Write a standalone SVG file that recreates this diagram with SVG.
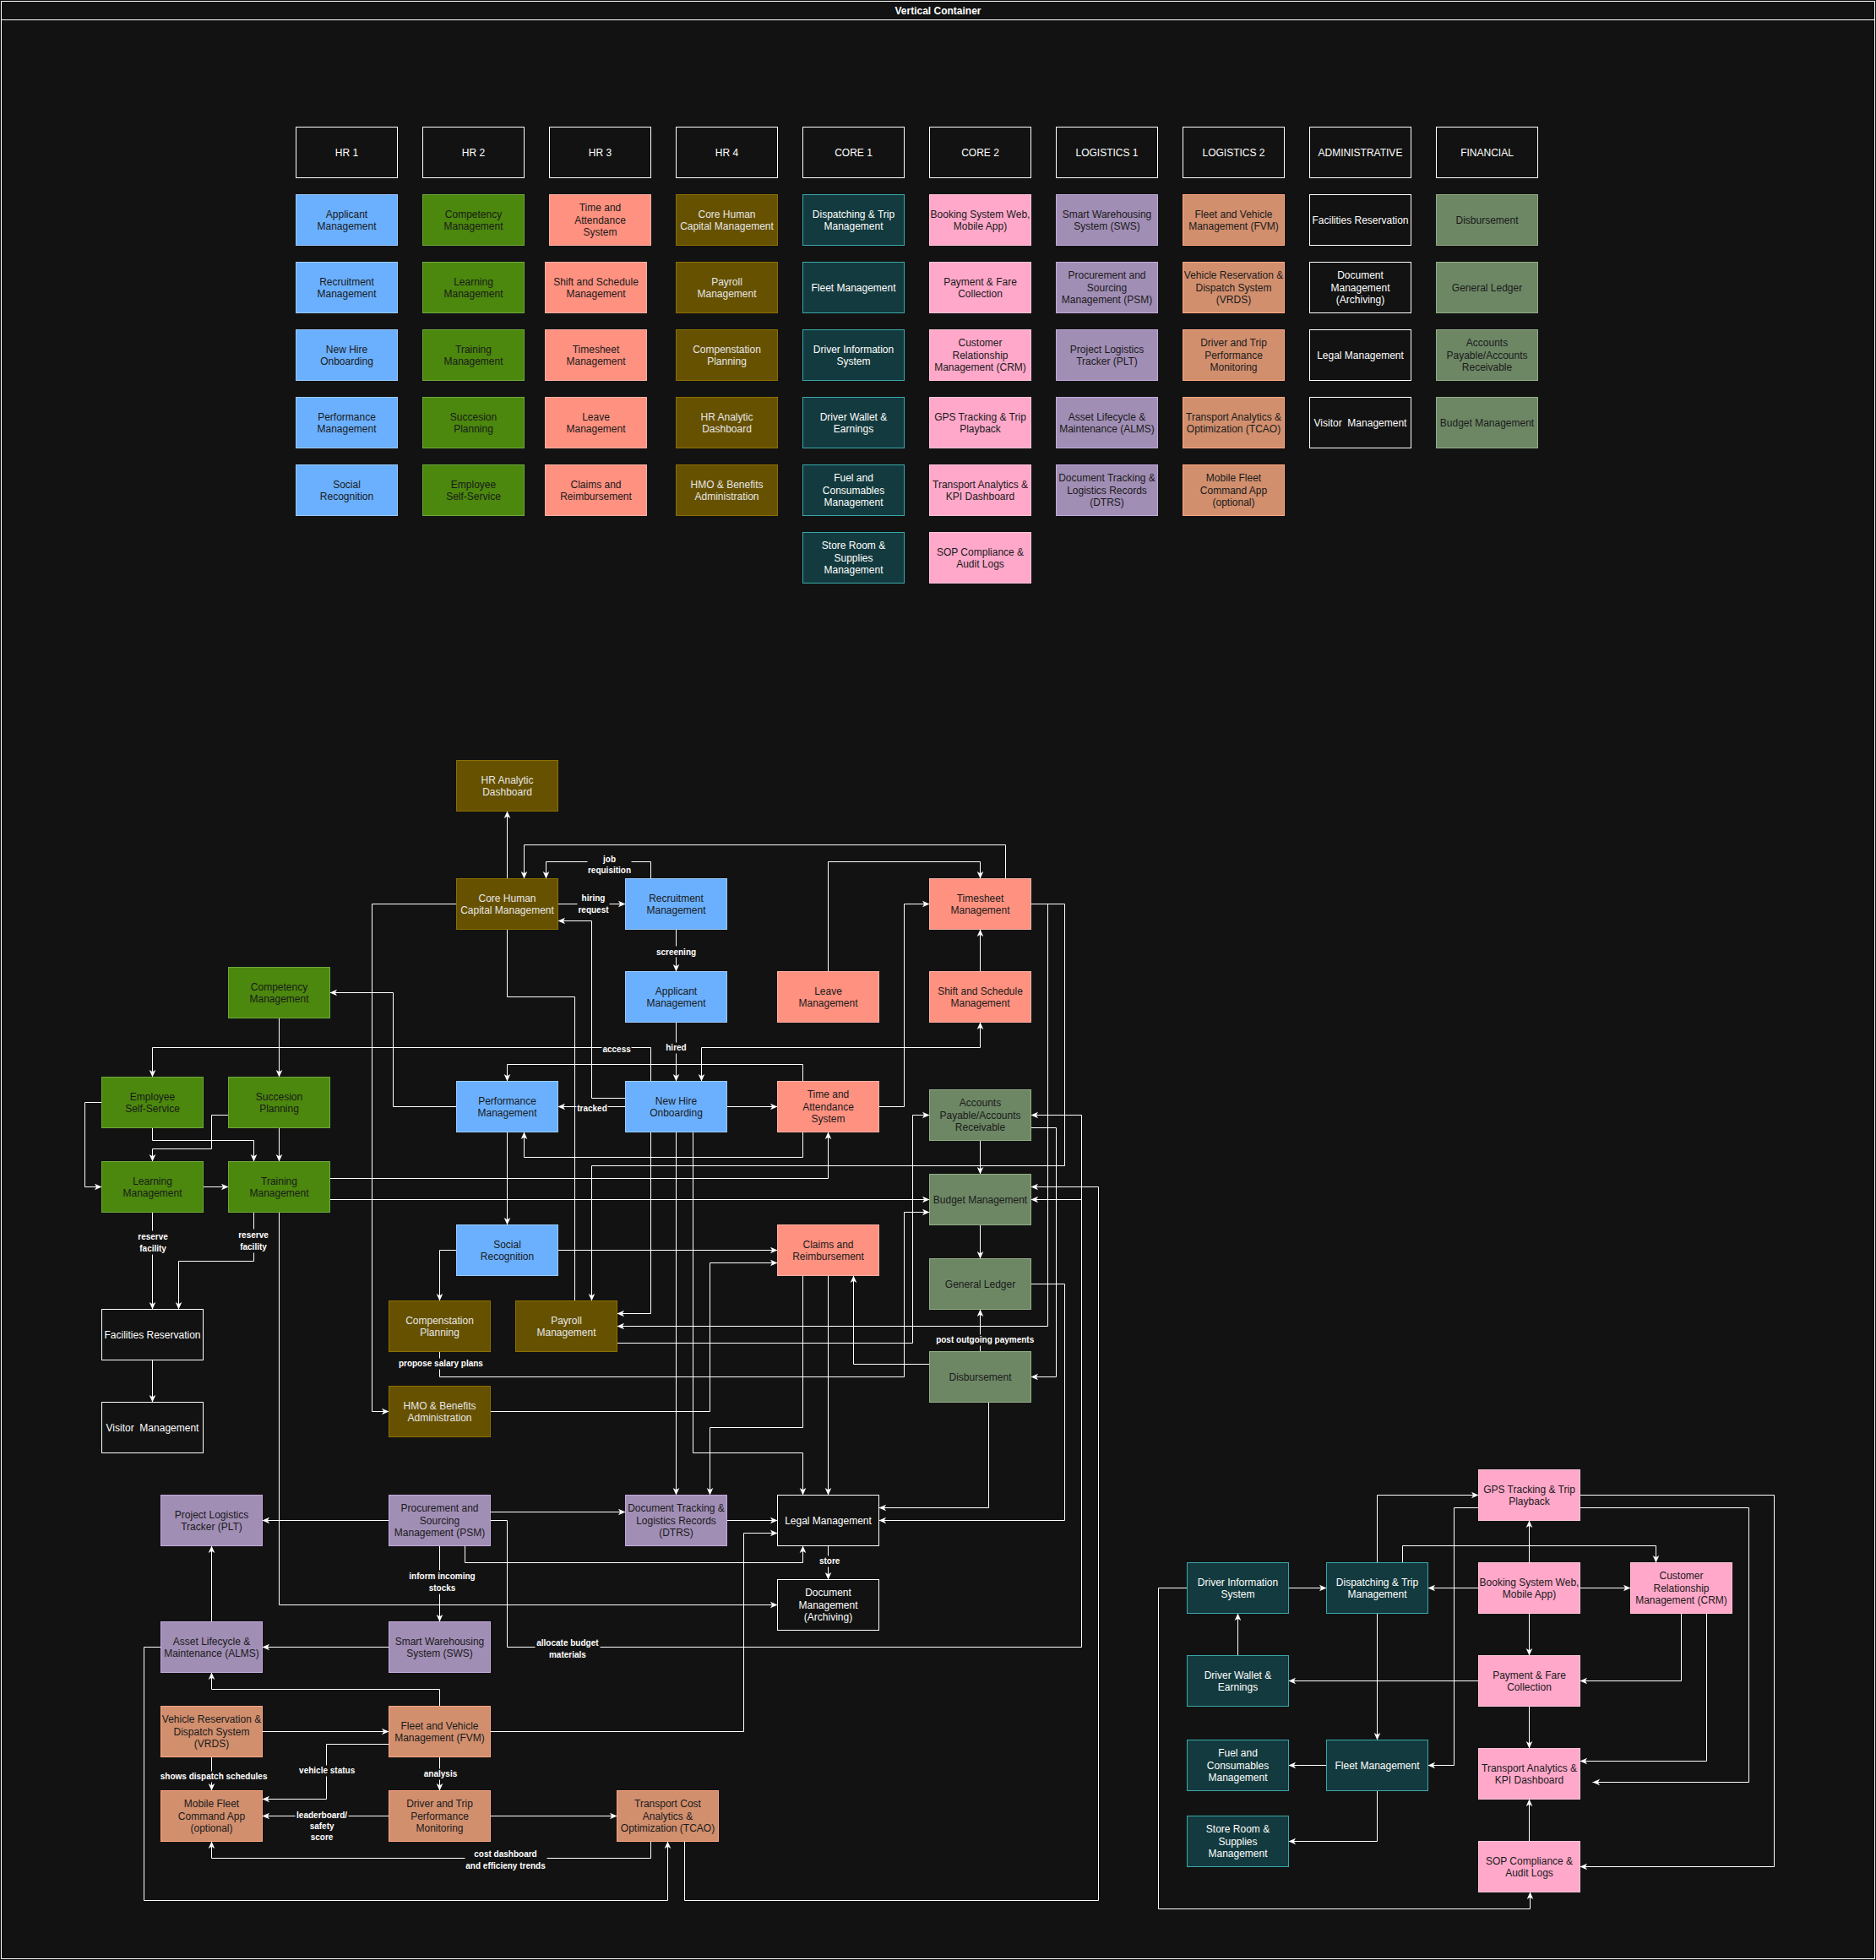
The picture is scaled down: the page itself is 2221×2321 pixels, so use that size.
<svg xmlns="http://www.w3.org/2000/svg" width="2221" height="2321" viewBox="0 0 2221 2321">
<style>
text{font-family:"Liberation Sans",Arial,Helvetica,sans-serif;font-size:12px;text-anchor:middle}
.hd rect,.a rect{fill:#121212;stroke:#ffffff}
.hd text,.a text,.t text{fill:#ffffff}
.b rect{fill:#6AB0FF;stroke:#9CCBFF}
.g rect{fill:#4B880D;stroke:#6FA83D}
.s rect{fill:#FF9180;stroke:#FFB0A3}
.y rect{fill:#665100;stroke:#8C7000}
.y text{fill:#e6e6e6}
.t rect{fill:#133A3E;stroke:#3AA8AA}
.p rect{fill:#FFA8CA;stroke:#FFC4D8}
.v rect{fill:#A18EB5;stroke:#C3AADE}
.o rect{fill:#D18F6E;stroke:#FFA883}
.f rect{fill:#6D8765;stroke:#93AD87}
.b text,.g text,.s text,.p text,.v text,.o text,.f text{fill:#1a1a1a}
#connectors path{fill:none;stroke:#ffffff;stroke-width:1}
.lb rect{fill:#121212}
.lb text{fill:#ffffff;font-size:10px;font-weight:bold}
</style>
<defs>
<marker id="ar" viewBox="-10 -5 11 10" refX="0" refY="0" markerWidth="11" markerHeight="10" markerUnits="userSpaceOnUse" orient="auto-start-reverse">
<path d="M0,0 L-8.5,-3.8 L-6.3,0 L-8.5,3.8 Z" fill="#ffffff"/>
</marker>
</defs>
<rect x="0" y="0" width="2221" height="2321" fill="#121212"/>
<g transform="translate(0.5,0.5)">
<g id="container">
<rect x="1" y="1" width="2218" height="2318" fill="#121212" stroke="#ffffff"/>
<line x1="1" y1="23" x2="2219" y2="23" stroke="#ffffff"/>
<text x="1110" y="16" fill="#ffffff" font-weight="bold">Vertical Container</text>
</g>

<!-- grid headers -->
<g id="g-h1" class="hd"><rect x="350" y="150" width="120" height="60"/><text x="410" y="184.3">HR 1</text></g>
<g id="g-h2" class="hd"><rect x="500" y="150" width="120" height="60"/><text x="560" y="184.3">HR 2</text></g>
<g id="g-h3" class="hd"><rect x="650" y="150" width="120" height="60"/><text x="710" y="184.3">HR 3</text></g>
<g id="g-h4" class="hd"><rect x="800" y="150" width="120" height="60"/><text x="860" y="184.3">HR 4</text></g>
<g id="g-h5" class="hd"><rect x="950" y="150" width="120" height="60"/><text x="1010" y="184.3">CORE 1</text></g>
<g id="g-h6" class="hd"><rect x="1100" y="150" width="120" height="60"/><text x="1160" y="184.3">CORE 2</text></g>
<g id="g-h7" class="hd"><rect x="1250" y="150" width="120" height="60"/><text x="1310" y="184.3">LOGISTICS 1</text></g>
<g id="g-h8" class="hd"><rect x="1400" y="150" width="120" height="60"/><text x="1460" y="184.3">LOGISTICS 2</text></g>
<g id="g-h9" class="hd"><rect x="1550" y="150" width="120" height="60"/><text x="1610" y="184.3">ADMINISTRATIVE</text></g>
<g id="g-h10" class="hd"><rect x="1700" y="150" width="120" height="60"/><text x="1760" y="184.3">FINANCIAL</text></g>

<!-- HR1 -->
<g id="g-applicant" class="b"><rect x="350" y="230" width="120" height="60"/><text x="410" y="257.1"><tspan x="410">Applicant</tspan><tspan x="410" dy="14.4">Management</tspan></text></g>
<g id="g-recruitment" class="b"><rect x="350" y="310" width="120" height="60"/><text x="410" y="337.1"><tspan x="410">Recruitment</tspan><tspan x="410" dy="14.4">Management</tspan></text></g>
<g id="g-newhire" class="b"><rect x="350" y="390" width="120" height="60"/><text x="410" y="417.1"><tspan x="410">New Hire</tspan><tspan x="410" dy="14.4">Onboarding</tspan></text></g>
<g id="g-performance" class="b"><rect x="350" y="470" width="120" height="60"/><text x="410" y="497.1"><tspan x="410">Performance</tspan><tspan x="410" dy="14.4">Management</tspan></text></g>
<g id="g-social" class="b"><rect x="350" y="550" width="120" height="60"/><text x="410" y="577.1"><tspan x="410">Social</tspan><tspan x="410" dy="14.4">Recognition</tspan></text></g>
<!-- HR2 -->
<g id="g-competency" class="g"><rect x="500" y="230" width="120" height="60"/><text x="560" y="257.1"><tspan x="560">Competency</tspan><tspan x="560" dy="14.4">Management</tspan></text></g>
<g id="g-learning" class="g"><rect x="500" y="310" width="120" height="60"/><text x="560" y="337.1"><tspan x="560">Learning</tspan><tspan x="560" dy="14.4">Management</tspan></text></g>
<g id="g-training" class="g"><rect x="500" y="390" width="120" height="60"/><text x="560" y="417.1"><tspan x="560">Training</tspan><tspan x="560" dy="14.4">Management</tspan></text></g>
<g id="g-succession" class="g"><rect x="500" y="470" width="120" height="60"/><text x="560" y="497.1"><tspan x="560">Succesion</tspan><tspan x="560" dy="14.4">Planning</tspan></text></g>
<g id="g-ess" class="g"><rect x="500" y="550" width="120" height="60"/><text x="560" y="577.1"><tspan x="560">Employee</tspan><tspan x="560" dy="14.4">Self-Service</tspan></text></g>
<!-- HR3 -->
<g id="g-ta" class="s"><rect x="650" y="230" width="120" height="60"/><text x="710" y="249.9"><tspan x="710">Time and</tspan><tspan x="710" dy="14.4">Attendance</tspan><tspan x="710" dy="14.4">System</tspan></text></g>
<g id="g-shift" class="s"><rect x="645" y="310" width="120" height="60"/><text x="705" y="337.1"><tspan x="705">Shift and Schedule</tspan><tspan x="705" dy="14.4">Management</tspan></text></g>
<g id="g-timesheet" class="s"><rect x="645" y="390" width="120" height="60"/><text x="705" y="417.1"><tspan x="705">Timesheet</tspan><tspan x="705" dy="14.4">Management</tspan></text></g>
<g id="g-leave" class="s"><rect x="645" y="470" width="120" height="60"/><text x="705" y="497.1"><tspan x="705">Leave</tspan><tspan x="705" dy="14.4">Management</tspan></text></g>
<g id="g-claims" class="s"><rect x="645" y="550" width="120" height="60"/><text x="705" y="577.1"><tspan x="705">Claims and</tspan><tspan x="705" dy="14.4">Reimbursement</tspan></text></g>
<!-- HR4 -->
<g id="g-chcm" class="y"><rect x="800" y="230" width="120" height="60"/><text x="860" y="257.1"><tspan x="860">Core Human</tspan><tspan x="860" dy="14.4">Capital Management</tspan></text></g>
<g id="g-payroll" class="y"><rect x="800" y="310" width="120" height="60"/><text x="860" y="337.1"><tspan x="860">Payroll</tspan><tspan x="860" dy="14.4">Management</tspan></text></g>
<g id="g-comp" class="y"><rect x="800" y="390" width="120" height="60"/><text x="860" y="417.1"><tspan x="860">Compenstation</tspan><tspan x="860" dy="14.4">Planning</tspan></text></g>
<g id="g-hrad" class="y"><rect x="800" y="470" width="120" height="60"/><text x="860" y="497.1"><tspan x="860">HR Analytic</tspan><tspan x="860" dy="14.4">Dashboard</tspan></text></g>
<g id="g-hmo" class="y"><rect x="800" y="550" width="120" height="60"/><text x="860" y="577.1"><tspan x="860">HMO &amp; Benefits</tspan><tspan x="860" dy="14.4">Administration</tspan></text></g>
<!-- CORE1 -->
<g id="g-dispatch" class="t"><rect x="950" y="230" width="120" height="60"/><text x="1010" y="257.1"><tspan x="1010">Dispatching &amp; Trip</tspan><tspan x="1010" dy="14.4">Management</tspan></text></g>
<g id="g-fleet" class="t"><rect x="950" y="310" width="120" height="60"/><text x="1010" y="344.3">Fleet Management</text></g>
<g id="g-dis" class="t"><rect x="950" y="390" width="120" height="60"/><text x="1010" y="417.1"><tspan x="1010">Driver Information</tspan><tspan x="1010" dy="14.4">System</tspan></text></g>
<g id="g-wallet" class="t"><rect x="950" y="470" width="120" height="60"/><text x="1010" y="497.1"><tspan x="1010">Driver Wallet &amp;</tspan><tspan x="1010" dy="14.4">Earnings</tspan></text></g>
<g id="g-fuel" class="t"><rect x="950" y="550" width="120" height="60"/><text x="1010" y="569.9"><tspan x="1010">Fuel and</tspan><tspan x="1010" dy="14.4">Consumables</tspan><tspan x="1010" dy="14.4">Management</tspan></text></g>
<g id="g-store" class="t"><rect x="950" y="630" width="120" height="60"/><text x="1010" y="649.9"><tspan x="1010">Store Room &amp;</tspan><tspan x="1010" dy="14.4">Supplies</tspan><tspan x="1010" dy="14.4">Management</tspan></text></g>
<!-- CORE2 -->
<g id="g-booking" class="p"><rect x="1100" y="230" width="120" height="60"/><text x="1160" y="257.1"><tspan x="1160">Booking System Web,</tspan><tspan x="1160" dy="14.4">Mobile App)</tspan></text></g>
<g id="g-payment" class="p"><rect x="1100" y="310" width="120" height="60"/><text x="1160" y="337.1"><tspan x="1160">Payment &amp; Fare</tspan><tspan x="1160" dy="14.4">Collection</tspan></text></g>
<g id="g-crm" class="p"><rect x="1100" y="390" width="120" height="60"/><text x="1160" y="409.9"><tspan x="1160">Customer</tspan><tspan x="1160" dy="14.4">Relationship</tspan><tspan x="1160" dy="14.4">Management (CRM)</tspan></text></g>
<g id="g-gps" class="p"><rect x="1100" y="470" width="120" height="60"/><text x="1160" y="497.1"><tspan x="1160">GPS Tracking &amp; Trip</tspan><tspan x="1160" dy="14.4">Playback</tspan></text></g>
<g id="g-kpi" class="p"><rect x="1100" y="550" width="120" height="60"/><text x="1160" y="577.1"><tspan x="1160">Transport Analytics &amp;</tspan><tspan x="1160" dy="14.4">KPI Dashboard</tspan></text></g>
<g id="g-sop" class="p"><rect x="1100" y="630" width="120" height="60"/><text x="1160" y="657.1"><tspan x="1160">SOP Compliance &amp;</tspan><tspan x="1160" dy="14.4">Audit Logs</tspan></text></g>
<!-- LOG1 -->
<g id="g-sws" class="v"><rect x="1250" y="230" width="120" height="60"/><text x="1310" y="257.1"><tspan x="1310">Smart Warehousing</tspan><tspan x="1310" dy="14.4">System (SWS)</tspan></text></g>
<g id="g-psm" class="v"><rect x="1250" y="310" width="120" height="60"/><text x="1310" y="329.9"><tspan x="1310">Procurement and</tspan><tspan x="1310" dy="14.4">Sourcing</tspan><tspan x="1310" dy="14.4">Management (PSM)</tspan></text></g>
<g id="g-plt" class="v"><rect x="1250" y="390" width="120" height="60"/><text x="1310" y="417.1"><tspan x="1310">Project Logistics</tspan><tspan x="1310" dy="14.4">Tracker (PLT)</tspan></text></g>
<g id="g-alms" class="v"><rect x="1250" y="470" width="120" height="60"/><text x="1310" y="497.1"><tspan x="1310">Asset Lifecycle &amp;</tspan><tspan x="1310" dy="14.4">Maintenance (ALMS)</tspan></text></g>
<g id="g-dtrs" class="v"><rect x="1250" y="550" width="120" height="60"/><text x="1310" y="569.9"><tspan x="1310">Document Tracking &amp;</tspan><tspan x="1310" dy="14.4">Logistics Records</tspan><tspan x="1310" dy="14.4">(DTRS)</tspan></text></g>
<!-- LOG2 -->
<g id="g-fvm" class="o"><rect x="1400" y="230" width="120" height="60"/><text x="1460" y="257.1"><tspan x="1460">Fleet and Vehicle</tspan><tspan x="1460" dy="14.4">Management (FVM)</tspan></text></g>
<g id="g-vrds" class="o"><rect x="1400" y="310" width="120" height="60"/><text x="1460" y="329.9"><tspan x="1460">Vehicle Reservation &amp;</tspan><tspan x="1460" dy="14.4">Dispatch System</tspan><tspan x="1460" dy="14.4">(VRDS)</tspan></text></g>
<g id="g-dtpm" class="o"><rect x="1400" y="390" width="120" height="60"/><text x="1460" y="409.9"><tspan x="1460">Driver and Trip</tspan><tspan x="1460" dy="14.4">Performance</tspan><tspan x="1460" dy="14.4">Monitoring</tspan></text></g>
<g id="g-tcao" class="o"><rect x="1400" y="470" width="120" height="60"/><text x="1460" y="497.1"><tspan x="1460">Transport Analytics &amp;</tspan><tspan x="1460" dy="14.4">Optimization (TCAO)</tspan></text></g>
<g id="g-mfc" class="o"><rect x="1400" y="550" width="120" height="60"/><text x="1460" y="569.9"><tspan x="1460">Mobile Fleet</tspan><tspan x="1460" dy="14.4">Command App</tspan><tspan x="1460" dy="14.4">(optional)</tspan></text></g>
<!-- ADMIN -->
<g id="g-fac" class="a"><rect x="1550" y="230" width="120" height="60"/><text x="1610" y="264.3">Facilities Reservation</text></g>
<g id="g-doc" class="a"><rect x="1550" y="310" width="120" height="60"/><text x="1610" y="329.9"><tspan x="1610">Document</tspan><tspan x="1610" dy="14.4">Management</tspan><tspan x="1610" dy="14.4">(Archiving)</tspan></text></g>
<g id="g-legal" class="a"><rect x="1550" y="390" width="120" height="60"/><text x="1610" y="424.3">Legal Management</text></g>
<g id="g-visitor" class="a"><rect x="1550" y="470" width="120" height="60"/><text x="1610" y="504.3" xml:space="preserve">Visitor  Management</text></g>
<!-- FIN -->
<g id="g-disb" class="f"><rect x="1700" y="230" width="120" height="60"/><text x="1760" y="264.3">Disbursement</text></g>
<g id="g-gl" class="f"><rect x="1700" y="310" width="120" height="60"/><text x="1760" y="344.3">General Ledger</text></g>
<g id="g-apar" class="f"><rect x="1700" y="390" width="120" height="60"/><text x="1760" y="409.9"><tspan x="1760">Accounts</tspan><tspan x="1760" dy="14.4">Payable/Accounts</tspan><tspan x="1760" dy="14.4">Receivable</tspan></text></g>
<g id="g-budget" class="f"><rect x="1700" y="470" width="120" height="60"/><text x="1760" y="504.3">Budget Management</text></g>

<!-- connectors -->
<g id="connectors" marker-end="url(#ar)">
<path d="M600,1040 V960"/>
<path d="M1190,1040 V1000 H620 V1040"/>
<path d="M770,1040 V1020 H646 V1040"/>
<path d="M660,1070 H740"/>
<path d="M740,1300 H700 V1090 H660"/>
<path d="M800,1100 V1150"/>
<path d="M800,1210 V1280"/>
<path d="M600,1100 V1180 H680 V1540" marker-end="none"/>
<path d="M770,1280 V1240 H180 V1275"/>
<path d="M1160,1210 V1240 H830 V1280" marker-start="url(#ar)"/>
<path d="M950,1280 V1260 H600 V1280"/>
<path d="M740,1310 H660"/>
<path d="M860,1310 H920"/>
<path d="M540,1310 H465 V1175 H390"/>
<path d="M540,1070 H440 V1671 H460"/>
<path d="M600,1340 V1450"/>
<path d="M330,1205 V1275"/>
<path d="M120,1305 H100 V1405 H120"/>
<path d="M180,1335 V1350 H300 V1375"/>
<path d="M270,1320 H250 V1360 H180 V1375"/>
<path d="M330,1335 V1375"/>
<path d="M240,1405 H270"/>
<path d="M390,1395 H980 V1340"/>
<path d="M390,1420 H1100"/>
<path d="M950,1340 V1370 H620 V1340"/>
<path d="M1040,1310 H1070 V1070 H1100"/>
<path d="M980,1150 V1020 H1160 V1040"/>
<path d="M1160,1150 V1100"/>
<path d="M1220,1070 H1260 V1380 H700 V1540"/>
<path d="M1220,1070 H1240 V1570 H730"/>
<path d="M1220,1335 H1250 V1630 H1220"/>
<path d="M1220,1520 H1260 V1800 H1040"/>
<path d="M580,1800 H600 V1950 H1280 V1320 H1220"/>
<path d="M1280,1420 H1220"/>
<path d="M810,2180 V2250 H1300 V1405 H1220"/>
<path d="M770,2180 V2200 H250 V2180"/>
<path d="M190,1950 H170 V2250 H790 V2180"/>
<path d="M460,1800 H310"/>
<path d="M580,1790 H740"/>
<path d="M550,1830 V1850 H950 V1830"/>
<path d="M520,1830 V1920"/>
<path d="M330,1435 V1900 H920"/>
<path d="M460,1950 H310"/>
<path d="M250,1920 V1830"/>
<path d="M520,2020 V2000 H250 V1980"/>
<path d="M310,2050 H460"/>
<path d="M580,2050 H880 V1815 H920"/>
<path d="M460,2065 H386 V2130 H310"/>
<path d="M250,2080 V2120"/>
<path d="M520,2080 V2120"/>
<path d="M460,2150 H310"/>
<path d="M580,2150 H730"/>
<path d="M860,1800 H920"/>
<path d="M1170,1660 V1785 H1040"/>
<path d="M980,1830 V1870"/>
<path d="M980,1510 V1770"/>
<path d="M950,1510 V1690 H840 V1770"/>
<path d="M580,1671 H840 V1495 H920"/>
<path d="M800,1340 V1770"/>
<path d="M770,1340 V1555 H730"/>
<path d="M820,1340 V1720 H950 V1770"/>
<path d="M730,1590 H1080 V1320 H1100"/>
<path d="M660,1480 H920"/>
<path d="M540,1480 H520 V1540"/>
<path d="M520,1600 V1630 H1070 V1435 H1100"/>
<path d="M1100,1615 H1010 V1510"/>
<path d="M1160,1600 V1550"/>
<path d="M1160,1450 V1490"/>
<path d="M1160,1350 V1390"/>
<path d="M180,1435 V1550"/>
<path d="M300,1435 V1493 H211 V1550"/>
<path d="M180,1610 V1660"/>
<!-- right cluster -->
<path d="M1525,1880 H1570"/>
<path d="M1405,1880 H1371 V2260 H1811 V2240"/>
<path d="M1465,1960 V1910"/>
<path d="M1630,1850 V1770 H1750"/>
<path d="M1660,1850 V1830 H1960 V1850"/>
<path d="M1750,1880 H1690"/>
<path d="M1870,1880 H1930"/>
<path d="M1810,1850 V1800"/>
<path d="M1810,1910 V1960"/>
<path d="M1630,1910 V2060"/>
<path d="M1750,1785 H1721 V2090 H1690"/>
<path d="M1870,1770 H2100 V2210 H1870"/>
<path d="M1870,1785 H2070 V2110 H1885"/>
<path d="M1990,1910 V1990 H1870"/>
<path d="M2020,1910 V2085 H1870"/>
<path d="M1750,1990 H1525"/>
<path d="M1810,2020 V2070"/>
<path d="M1570,2090 H1525"/>
<path d="M1630,2120 V2180 H1525"/>
<path d="M1810,2180 V2130"/>

<!-- labels -->
<g class="lb"><rect x="695" y="1010" width="52" height="27"/><text x="721" y="1020.2">job</text><text x="721" y="1033.8">requisition</text></g>
<g class="lb"><rect x="683" y="1056" width="38" height="28"/><text x="702" y="1066.8">hiring</text><text x="702" y="1080.8">request</text></g>
<g class="lb"><rect x="775" y="1120" width="50" height="13"/><text x="800" y="1130.2">screening</text></g>
<g class="lb"><rect x="787" y="1234" width="26" height="13"/><text x="800" y="1243.8">hired</text></g>
<g class="lb"><rect x="712" y="1236" width="35" height="13"/><text x="729.6" y="1245.8">access</text></g>
<g class="lb"><rect x="682" y="1305" width="37" height="13"/><text x="700.5" y="1315.5">tracked</text></g>
<g class="lb"><rect x="161" y="1457" width="40" height="28"/><text x="180.6" y="1467.8">reserve</text><text x="180.6" y="1481.8">facility</text></g>
<g class="lb"><rect x="280" y="1455" width="40" height="28"/><text x="299.5" y="1465.8">reserve</text><text x="299.5" y="1479.8">facility</text></g>
<g class="lb"><rect x="471" y="1608" width="101" height="13"/><text x="521.4" y="1617.8">propose salary plans</text></g>
<g class="lb"><rect x="1107" y="1580" width="118" height="13"/><text x="1165.7" y="1589.8">post outgoing payments</text></g>
<g class="lb"><rect x="968" y="1842" width="27" height="13"/><text x="981.7" y="1851.8">store</text></g>
<g class="lb"><rect x="484" y="1859" width="78" height="28"/><text x="523" y="1869.8">inform incoming</text><text x="523" y="1883.8">stocks</text></g>
<g class="lb"><rect x="633" y="1938" width="77" height="28"/><text x="671.4" y="1948.8">allocate budget</text><text x="671.4" y="1962.8">materials</text></g>
<g class="lb"><rect x="188" y="2097" width="129" height="13"/><text x="252.6" y="2106.8">shows dispatch schedules</text></g>
<g class="lb"><rect x="353" y="2090" width="67" height="13"/><text x="386.7" y="2099.8">vehicle status</text></g>
<g class="lb"><rect x="500" y="2094" width="42" height="13"/><text x="521" y="2103.8">analysis</text></g>
<g class="lb"><rect x="349" y="2142" width="63" height="40"/><text x="380.6" y="2152.5">leaderboard/</text><text x="380.6" y="2165.8">safety</text><text x="380.6" y="2178.8">score</text></g>
<g class="lb"><rect x="550" y="2188" width="97" height="28"/><text x="598" y="2198.8">cost dashboard</text><text x="598" y="2212.8">and efficieny trends</text></g>
</g>

<!-- diagram nodes -->
<g id="d-hrad" class="y"><rect x="540" y="900" width="120" height="60"/><text x="600" y="927.1"><tspan x="600">HR Analytic</tspan><tspan x="600" dy="14.4">Dashboard</tspan></text></g>
<g id="d-chcm" class="y"><rect x="540" y="1040" width="120" height="60"/><text x="600" y="1067.1"><tspan x="600">Core Human</tspan><tspan x="600" dy="14.4">Capital Management</tspan></text></g>
<g id="d-recr" class="b"><rect x="740" y="1040" width="120" height="60"/><text x="800" y="1067.1"><tspan x="800">Recruitment</tspan><tspan x="800" dy="14.4">Management</tspan></text></g>
<g id="d-appl" class="b"><rect x="740" y="1150" width="120" height="60"/><text x="800" y="1177.1"><tspan x="800">Applicant</tspan><tspan x="800" dy="14.4">Management</tspan></text></g>
<g id="d-comp" class="g"><rect x="270" y="1145" width="120" height="60"/><text x="330" y="1172.1"><tspan x="330">Competency</tspan><tspan x="330" dy="14.4">Management</tspan></text></g>
<g id="d-ess" class="g"><rect x="120" y="1275" width="120" height="60"/><text x="180" y="1302.1"><tspan x="180">Employee</tspan><tspan x="180" dy="14.4">Self-Service</tspan></text></g>
<g id="d-succ" class="g"><rect x="270" y="1275" width="120" height="60"/><text x="330" y="1302.1"><tspan x="330">Succesion</tspan><tspan x="330" dy="14.4">Planning</tspan></text></g>
<g id="d-perf" class="b"><rect x="540" y="1280" width="120" height="60"/><text x="600" y="1307.1"><tspan x="600">Performance</tspan><tspan x="600" dy="14.4">Management</tspan></text></g>
<g id="d-nho" class="b"><rect x="740" y="1280" width="120" height="60"/><text x="800" y="1307.1"><tspan x="800">New Hire</tspan><tspan x="800" dy="14.4">Onboarding</tspan></text></g>
<g id="d-learn" class="g"><rect x="120" y="1375" width="120" height="60"/><text x="180" y="1402.1"><tspan x="180">Learning</tspan><tspan x="180" dy="14.4">Management</tspan></text></g>
<g id="d-train" class="g"><rect x="270" y="1375" width="120" height="60"/><text x="330" y="1402.1"><tspan x="330">Training</tspan><tspan x="330" dy="14.4">Management</tspan></text></g>
<g id="d-ts" class="s"><rect x="1100" y="1040" width="120" height="60"/><text x="1160" y="1067.1"><tspan x="1160">Timesheet</tspan><tspan x="1160" dy="14.4">Management</tspan></text></g>
<g id="d-leave" class="s"><rect x="920" y="1150" width="120" height="60"/><text x="980" y="1177.1"><tspan x="980">Leave</tspan><tspan x="980" dy="14.4">Management</tspan></text></g>
<g id="d-shift" class="s"><rect x="1100" y="1150" width="120" height="60"/><text x="1160" y="1177.1"><tspan x="1160">Shift and Schedule</tspan><tspan x="1160" dy="14.4">Management</tspan></text></g>
<g id="d-ta" class="s"><rect x="920" y="1280" width="120" height="60"/><text x="980" y="1299.9"><tspan x="980">Time and</tspan><tspan x="980" dy="14.4">Attendance</tspan><tspan x="980" dy="14.4">System</tspan></text></g>
<g id="d-apar" class="f"><rect x="1100" y="1290" width="120" height="60"/><text x="1160" y="1309.9"><tspan x="1160">Accounts</tspan><tspan x="1160" dy="14.4">Payable/Accounts</tspan><tspan x="1160" dy="14.4">Receivable</tspan></text></g>
<g id="d-budget" class="f"><rect x="1100" y="1390" width="120" height="60"/><text x="1160" y="1424.3">Budget Management</text></g>
<g id="d-claims" class="s"><rect x="920" y="1450" width="120" height="60"/><text x="980" y="1477.1"><tspan x="980">Claims and</tspan><tspan x="980" dy="14.4">Reimbursement</tspan></text></g>
<g id="d-gl" class="f"><rect x="1100" y="1490" width="120" height="60"/><text x="1160" y="1524.3">General Ledger</text></g>
<g id="d-disb" class="f"><rect x="1100" y="1600" width="120" height="60"/><text x="1160" y="1634.3">Disbursement</text></g>
<g id="d-social" class="b"><rect x="540" y="1450" width="120" height="60"/><text x="600" y="1477.1"><tspan x="600">Social</tspan><tspan x="600" dy="14.4">Recognition</tspan></text></g>
<g id="d-compp" class="y"><rect x="460" y="1540" width="120" height="60"/><text x="520" y="1567.1"><tspan x="520">Compenstation</tspan><tspan x="520" dy="14.4">Planning</tspan></text></g>
<g id="d-payroll" class="y"><rect x="610" y="1540" width="120" height="60"/><text x="670" y="1567.1"><tspan x="670">Payroll</tspan><tspan x="670" dy="14.4">Management</tspan></text></g>
<g id="d-hmo" class="y"><rect x="460" y="1641" width="120" height="60"/><text x="520" y="1668.1"><tspan x="520">HMO &amp; Benefits</tspan><tspan x="520" dy="14.4">Administration</tspan></text></g>
<g id="d-fac" class="a"><rect x="120" y="1550" width="120" height="60"/><text x="180" y="1584.3">Facilities Reservation</text></g>
<g id="d-vis" class="a"><rect x="120" y="1660" width="120" height="60"/><text x="180" y="1694.3" xml:space="preserve">Visitor  Management</text></g>
<g id="d-plt" class="v"><rect x="190" y="1770" width="120" height="60"/><text x="250" y="1797.1"><tspan x="250">Project Logistics</tspan><tspan x="250" dy="14.4">Tracker (PLT)</tspan></text></g>
<g id="d-psm" class="v"><rect x="460" y="1770" width="120" height="60"/><text x="520" y="1789.9"><tspan x="520">Procurement and</tspan><tspan x="520" dy="14.4">Sourcing</tspan><tspan x="520" dy="14.4">Management (PSM)</tspan></text></g>
<g id="d-dtrs" class="v"><rect x="740" y="1770" width="120" height="60"/><text x="800" y="1789.9"><tspan x="800">Document Tracking &amp;</tspan><tspan x="800" dy="14.4">Logistics Records</tspan><tspan x="800" dy="14.4">(DTRS)</tspan></text></g>
<g id="d-legal" class="a"><rect x="920" y="1770" width="120" height="60"/><text x="980" y="1804.3">Legal Management</text></g>
<g id="d-doc" class="a"><rect x="920" y="1870" width="120" height="60"/><text x="980" y="1889.9"><tspan x="980">Document</tspan><tspan x="980" dy="14.4">Management</tspan><tspan x="980" dy="14.4">(Archiving)</tspan></text></g>
<g id="d-alms" class="v"><rect x="190" y="1920" width="120" height="60"/><text x="250" y="1947.1"><tspan x="250">Asset Lifecycle &amp;</tspan><tspan x="250" dy="14.4">Maintenance (ALMS)</tspan></text></g>
<g id="d-sws" class="v"><rect x="460" y="1920" width="120" height="60"/><text x="520" y="1947.1"><tspan x="520">Smart Warehousing</tspan><tspan x="520" dy="14.4">System (SWS)</tspan></text></g>
<g id="d-vrds" class="o"><rect x="190" y="2020" width="120" height="60"/><text x="250" y="2039.9"><tspan x="250">Vehicle Reservation &amp;</tspan><tspan x="250" dy="14.4">Dispatch System</tspan><tspan x="250" dy="14.4">(VRDS)</tspan></text></g>
<g id="d-fvm" class="o"><rect x="460" y="2020" width="120" height="60"/><text x="520" y="2047.1"><tspan x="520">Fleet and Vehicle</tspan><tspan x="520" dy="14.4">Management (FVM)</tspan></text></g>
<g id="d-mfc" class="o"><rect x="190" y="2120" width="120" height="60"/><text x="250" y="2139.9"><tspan x="250">Mobile Fleet</tspan><tspan x="250" dy="14.4">Command App</tspan><tspan x="250" dy="14.4">(optional)</tspan></text></g>
<g id="d-dtpm" class="o"><rect x="460" y="2120" width="120" height="60"/><text x="520" y="2139.9"><tspan x="520">Driver and Trip</tspan><tspan x="520" dy="14.4">Performance</tspan><tspan x="520" dy="14.4">Monitoring</tspan></text></g>
<g id="d-tcao" class="o"><rect x="730" y="2120" width="120" height="60"/><text x="790" y="2139.9"><tspan x="790">Transport Cost</tspan><tspan x="790" dy="14.4">Analytics &amp;</tspan><tspan x="790" dy="14.4">Optimization (TCAO)</tspan></text></g>
<!-- right cluster nodes -->
<g id="d-dis" class="t"><rect x="1405" y="1850" width="120" height="60"/><text x="1465" y="1877.1"><tspan x="1465">Driver Information</tspan><tspan x="1465" dy="14.4">System</tspan></text></g>
<g id="d-dtm" class="t"><rect x="1570" y="1850" width="120" height="60"/><text x="1630" y="1877.1"><tspan x="1630">Dispatching &amp; Trip</tspan><tspan x="1630" dy="14.4">Management</tspan></text></g>
<g id="d-book" class="p"><rect x="1750" y="1850" width="120" height="60"/><text x="1810" y="1877.1"><tspan x="1810">Booking System Web,</tspan><tspan x="1810" dy="14.4">Mobile App)</tspan></text></g>
<g id="d-crm" class="p"><rect x="1930" y="1850" width="120" height="60"/><text x="1990" y="1869.9"><tspan x="1990">Customer</tspan><tspan x="1990" dy="14.4">Relationship</tspan><tspan x="1990" dy="14.4">Management (CRM)</tspan></text></g>
<g id="d-gps" class="p"><rect x="1750" y="1740" width="120" height="60"/><text x="1810" y="1767.1"><tspan x="1810">GPS Tracking &amp; Trip</tspan><tspan x="1810" dy="14.4">Playback</tspan></text></g>
<g id="d-dwe" class="t"><rect x="1405" y="1960" width="120" height="60"/><text x="1465" y="1987.1"><tspan x="1465">Driver Wallet &amp;</tspan><tspan x="1465" dy="14.4">Earnings</tspan></text></g>
<g id="d-pay" class="p"><rect x="1750" y="1960" width="120" height="60"/><text x="1810" y="1987.1"><tspan x="1810">Payment &amp; Fare</tspan><tspan x="1810" dy="14.4">Collection</tspan></text></g>
<g id="d-fuel" class="t"><rect x="1405" y="2060" width="120" height="60"/><text x="1465" y="2079.9"><tspan x="1465">Fuel and</tspan><tspan x="1465" dy="14.4">Consumables</tspan><tspan x="1465" dy="14.4">Management</tspan></text></g>
<g id="d-fleet" class="t"><rect x="1570" y="2060" width="120" height="60"/><text x="1630" y="2094.3">Fleet Management</text></g>
<g id="d-kpi" class="p"><rect x="1750" y="2070" width="120" height="60"/><text x="1810" y="2097.1"><tspan x="1810">Transport Analytics &amp;</tspan><tspan x="1810" dy="14.4">KPI Dashboard</tspan></text></g>
<g id="d-store" class="t"><rect x="1405" y="2150" width="120" height="60"/><text x="1465" y="2169.9"><tspan x="1465">Store Room &amp;</tspan><tspan x="1465" dy="14.4">Supplies</tspan><tspan x="1465" dy="14.4">Management</tspan></text></g>
<g id="d-sop" class="p"><rect x="1750" y="2180" width="120" height="60"/><text x="1810" y="2207.1"><tspan x="1810">SOP Compliance &amp;</tspan><tspan x="1810" dy="14.4">Audit Logs</tspan></text></g>
</g>
</svg>
